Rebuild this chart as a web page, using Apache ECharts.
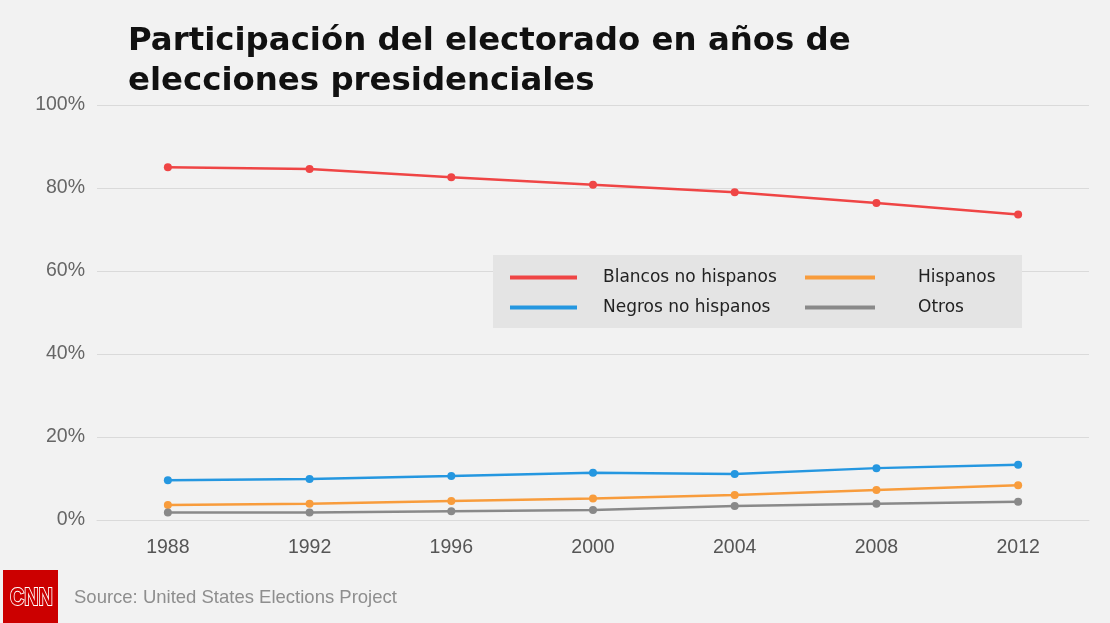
<!DOCTYPE html>
<html>
<head>
<meta charset="utf-8">
<script src="https://cdn.jsdelivr.net/npm/echarts@6/dist/echarts.min.js"></script>
<style>
html,body{margin:0;padding:0;background:#f2f2f2;}
#c{width:1110px;height:623px;}
</style>
</head>
<body>
<div id="c"></div>
<script>
const years = ['1988','1992','1996','2000','2004','2008','2012'];
const blancos = [85.0, 84.6, 82.6, 80.8, 79.0, 76.4, 73.6];
const negros = [9.6, 9.9, 10.6, 11.4, 11.1, 12.5, 13.3];
const hispanos = [3.6, 3.9, 4.6, 5.2, 6.0, 7.2, 8.4];
const otros = [1.8, 1.8, 2.1, 2.4, 3.4, 3.9, 4.4];
const yTicks = [0, 20, 40, 60, 80, 100];

const names = ['Blancos no hispanos', 'Negros no hispanos', 'Hispanos', 'Otros'];
const colors = ['#ef4545', '#2597e0', '#f89c3c', '#898989'];
const datasets = [blancos, negros, hispanos, otros];

const chart = echarts.init(document.getElementById('c'), null, {renderer: 'canvas'});
const legendFont = {color: '#222', fontSize: 17, fontFamily: 'DejaVu Sans, Verdana, sans-serif'};
chart.setOption({
  backgroundColor: '#f2f2f2',
  animation: false,
  title: {
    text: 'Participación del electorado en años de\nelecciones presidenciales',
    left: 123, top: 17,
    textStyle: {fontFamily: 'DejaVu Sans', fontWeight: 'bold', fontSize: 32.4, color: '#111', lineHeight: 40}
  },
  graphic: [
    {type: 'rect', left: 493, top: 255, shape: {width: 529, height: 73}, style: {fill: '#e4e4e4'}, z: 10},
    {type: 'rect', left: 3, top: 570, shape: {width: 55, height: 53}, style: {fill: '#cc0000'}},
    {type: 'text', x: 10, y: 587, scaleX: 0.86, style: {text: 'CNN', fill: '#cc0000', stroke: '#ffffff', lineWidth: 1.8, font: 'bold 23px Liberation Sans'}},
    {type: 'text', left: 74, top: 588, style: {text: 'Source: United States Elections Project', fill: '#8e8e8e', font: '18.5px Liberation Sans'}}
  ],
  legend: [
    {data: [names[0], names[1]], orient: 'vertical', left: 505, top: 264, icon: 'rect', itemWidth: 67, itemHeight: 4, itemGap: 13, z: 20,
     textStyle: Object.assign({padding: [0, 0, 0, 21]}, legendFont)},
    {data: [names[2], names[3]], orient: 'vertical', left: 800, top: 264, icon: 'rect', itemWidth: 70, itemHeight: 4, itemGap: 13, z: 20,
     textStyle: Object.assign({padding: [0, 0, 0, 38]}, legendFont)}
  ],
  grid: {left: 97, right: 21, top: 105, bottom: 103, containLabel: false},
  xAxis: {
    type: 'category', data: years, boundaryGap: true,
    axisLine: {show: true, lineStyle: {color: '#dadada'}},
    axisTick: {show: false},
    axisLabel: {color: '#555', fontSize: 19.5, fontFamily: 'Liberation Sans, Arial, sans-serif', margin: 18}
  },
  yAxis: {
    type: 'value', min: yTicks[0], max: yTicks[yTicks.length - 1], interval: 20,
    axisLine: {show: false}, axisTick: {show: false},
    splitLine: {lineStyle: {color: '#dadada', width: 1}},
    axisLabel: {color: '#666', fontSize: 19.5, fontFamily: 'Liberation Sans, Arial, sans-serif', margin: 12, formatter: v => v + '%'}
  },
  series: names.map((n, i) => ({
    name: n, type: 'line', data: datasets[i],
    symbol: 'circle', symbolSize: 8,
    lineStyle: {color: colors[i], width: 2.5},
    itemStyle: {color: colors[i]},
    z: 3
  }))
});
</script>
</body>
</html>
